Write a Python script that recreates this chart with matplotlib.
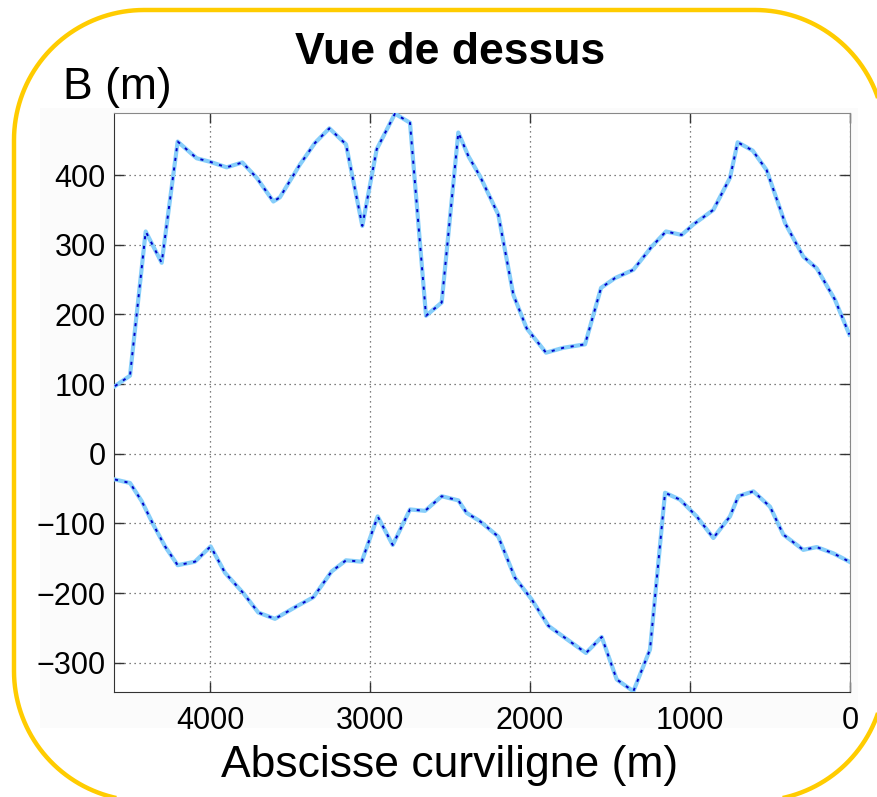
import numpy as np
import matplotlib.pyplot as plt
from matplotlib.patches import Polygon, Rectangle

plt.rcParams['font.family'] = ['Liberation Sans', 'DejaVu Sans']

# abscisse curviligne (m) and B (m)
x_upper = [4594, 4500, 4402, 4302, 4202, 4083, 4000, 3896, 3798, 3708, 3604,
           3563, 3438, 3344, 3254, 3150, 3048, 2958, 2844, 2750, 2650, 2552,
           2448, 2385, 2312, 2198, 2104, 2021, 1900, 1792, 1656, 1556, 1469,
           1354, 1240, 1150, 1052, 979, 854, 750, 702, 608, 521, 406, 292,
           208, 94, 4]
b_upper = [97, 112, 319, 274, 448, 424, 419, 411, 418, 396, 362,
           368, 415, 446, 467, 444, 327, 437, 488, 475, 198, 217,
           461, 427, 398, 343, 228, 180, 145, 152, 157, 238, 252,
           264, 297, 319, 314, 329, 350, 396, 447, 435, 407, 331, 283,
           266, 221, 171]

x_lower = [4594, 4500, 4427, 4354, 4281, 4202, 4094, 3996, 3906, 3792, 3698,
           3594, 3458, 3354, 3240, 3150, 3052, 2952, 2858, 2750, 2656, 2552,
           2448, 2396, 2312, 2198, 2094, 1990, 1885, 1771, 1650, 1552, 1458,
           1354, 1250, 1156, 1062, 958, 854, 750, 698, 604, 500, 417, 292,
           208, 104, 4]
b_lower = [-37, -42, -68, -102, -133, -160, -155, -133, -171, -200, -228,
           -237, -219, -206, -169, -153, -155, -90, -131, -80, -82, -61,
           -67, -85, -97, -119, -178, -209, -247, -266, -286, -263, -324,
           -341, -281, -56, -66, -90, -121, -90, -61, -54, -76, -116, -138,
           -134, -143, -155]

x_ticks = [4000, 3000, 2000, 1000, 0]
y_ticks = [-300, -200, -100, 0, 100, 200, 300, 400]

W, H = 877, 797
fig = plt.figure(figsize=(W / 100, H / 100), dpi=100)

# background layer in pixel coordinates (y up)
bg = fig.add_axes([0, 0, 1, 1], zorder=-1)
bg.set_xlim(0, W)
bg.set_ylim(0, H)
bg.axis('off')
bg.add_patch(Rectangle((40, H - 728), 818, 620, facecolor='#fbfbfb', edgecolor='none'))

# yellow rounded frame, circular corners
left, right, top, bottom, r = 14, 885, H - 10, H - 801, 130
pts = []
for cx, cy, a0 in [(right - r, top - r, 0), (left + r, top - r, 90),
                   (left + r, bottom + r, 180), (right - r, bottom + r, 270)]:
    t = np.radians(np.linspace(a0, a0 + 90, 40))
    pts += list(zip(cx + r * np.cos(t), cy + r * np.sin(t)))
bg.add_patch(Polygon(pts, closed=True, facecolor='none', edgecolor='#ffcc00',
                     linewidth=3.2))

ax = fig.add_axes([114 / W, 1 - 692 / H, 736 / W, 579 / H])
ax.set_facecolor('white')
for xs, ys in [(x_upper, b_upper), (x_lower, b_lower)]:
    ax.plot(xs, ys, color='#87cefa', linewidth=3, solid_joinstyle='round', zorder=3)
    ax.plot(xs, ys, color='#0000c8', linewidth=1.4, linestyle=(0, (1.6, 3.4)), zorder=4)

ax.set_xlim(4600, 0)
ax.set_ylim(-342, 489)
ax.set_xticks(x_ticks)
ax.set_yticks(y_ticks)
ax.tick_params(direction='in', length=7, width=1, labelsize=22, top=True, right=True,
               color='#333333')
ax.tick_params(axis='x', pad=10)
ax.tick_params(axis='y', pad=6)
ax.grid(True, linestyle=(0, (1, 3)), color='#555555', linewidth=0.9)
for side in ['left', 'bottom']:
    ax.spines[side].set_color('#333333')
for side in ['top', 'right']:
    ax.spines[side].set_color('#888888')

fig.text(450 / W, 1 - 52 / H, 'Vue de dessus', ha='center', va='center',
         fontsize=32, fontweight='bold')
fig.text(63 / W, 1 - 88 / H, 'B (m)', ha='left', va='center', fontsize=32)
fig.text(450 / W, 1 - 765 / H, 'Abscisse curviligne (m)', ha='center', va='center',
         fontsize=32)

fig.savefig('out.png', dpi=100)
